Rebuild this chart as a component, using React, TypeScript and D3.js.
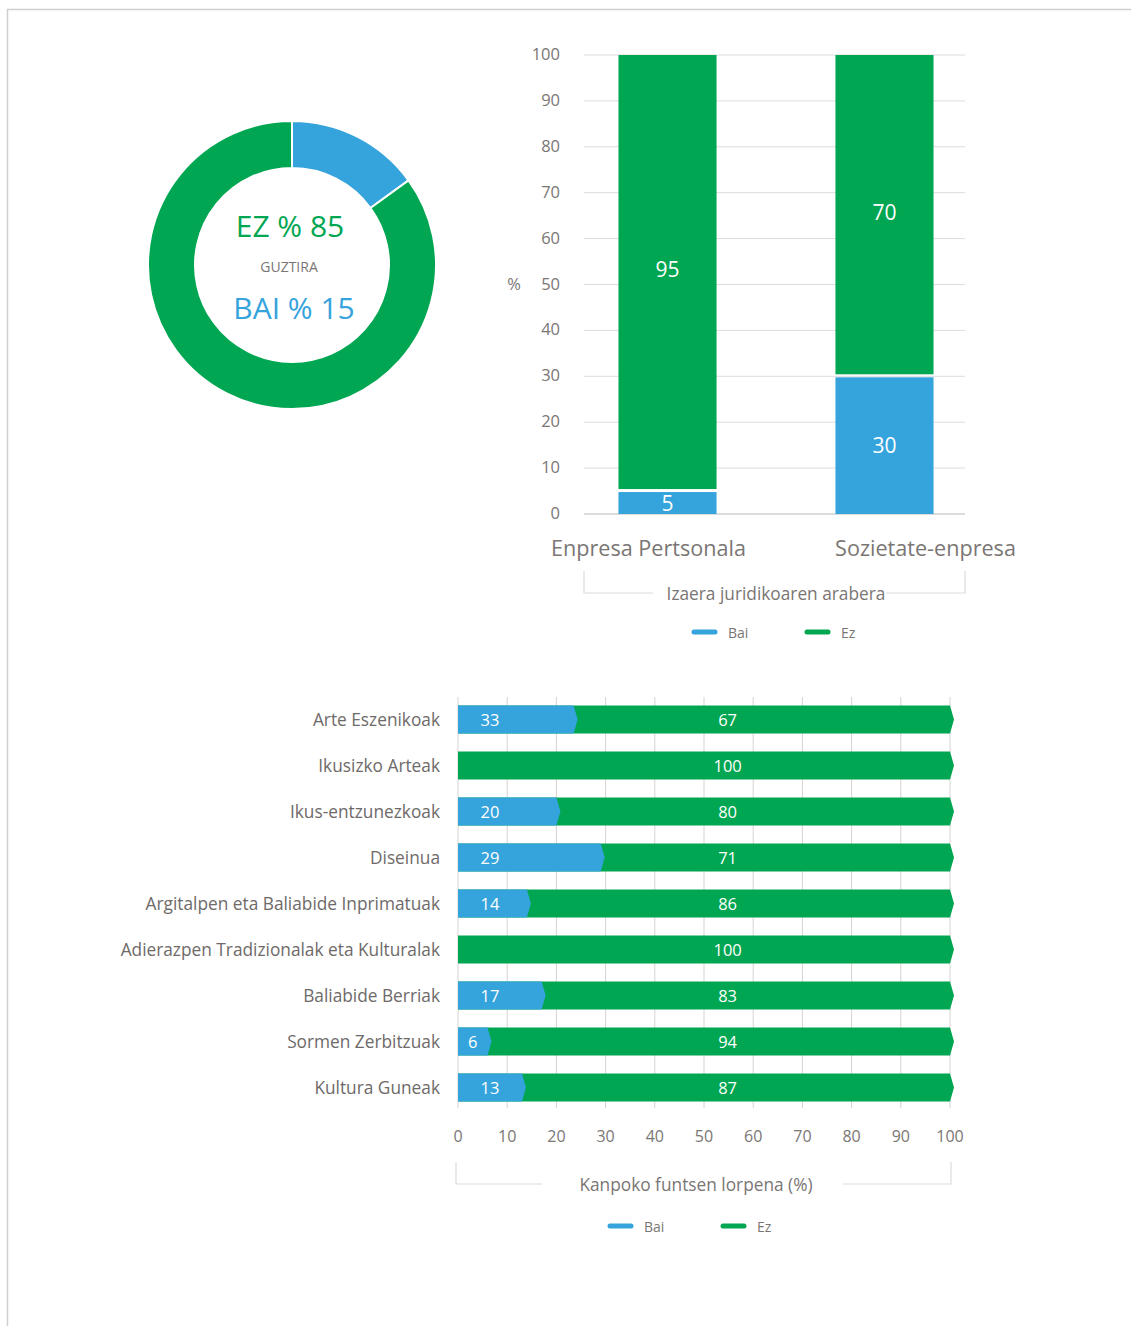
import React from 'react';
import * as d3 from 'd3';

// donut: total
const totalLabels = ['Bai', 'Ez'];
const totalValues = [15, 85];

// top stacked columns
const legalCategories = ['Enpresa Pertsonala', 'Sozietate-enpresa'];
const legalBai = [5, 30];
const legalEz = [95, 70];
const yTicks = [0, 10, 20, 30, 40, 50, 60, 70, 80, 90, 100];

// bottom stacked bars (the first blue bar is drawn shorter than its "33" label in the source)
const sectorCategories = [
    'Arte Eszenikoak',
    'Ikusizko Arteak',
    'Ikus-entzunezkoak',
    'Diseinua',
    'Argitalpen eta Baliabide Inprimatuak',
    'Adierazpen Tradizionalak eta Kulturalak',
    'Baliabide Berriak',
    'Sormen Zerbitzuak',
    'Kultura Guneak',
];
const sectorBai = [23.5, 0, 20, 29, 14, 0, 17, 6, 13];
const sectorBaiLabels = ['33', '', '20', '29', '14', '', '17', '6', '13'];
const sectorEzLabels = ['67', '100', '80', '71', '86', '100', '83', '94', '87'];
const xTicks = [0, 10, 20, 30, 40, 50, 60, 70, 80, 90, 100];

const BLUE = '#35a3dc';
const GREEN = '#00a651';
const GRID = '#dcdcdc';
const TEXT = '#7a7674';
const FONT = '"Open Sans", "Noto Sans", sans-serif';

function Donut()
{
    const cx = 292;
    const cy = 265;
    const pie = d3.pie<number>().sort(null)(totalValues);
    const arc = d3.arc<d3.PieArcDatum<number>>().innerRadius(97).outerRadius(144);
    const colors = [BLUE, GREEN];
    return (
        <g transform={ `translate(${ cx },${ cy })` }>
            { pie.map((p, i) => (
                <path key={ totalLabels[i] } d={ arc(p) || '' } fill={ colors[i] } stroke="#fff" strokeWidth={ 2 } />
            )) }
            <text x={ -2 } y={ -40 } textAnchor="middle" dominantBaseline="central" fontSize={ 30 } fill={ GREEN }>
                { `EZ % ${ totalValues[1] }` }
            </text>
            <text x={ -3 } y={ 1 } textAnchor="middle" dominantBaseline="central" fontSize={ 14 } fill={ TEXT }>GUZTIRA</text>
            <text x={ 2 } y={ 42 } textAnchor="middle" dominantBaseline="central" fontSize={ 30 } fill={ BLUE }>
                { `BAI % ${ totalValues[0] }` }
            </text>
        </g>
    );
}

function Legend({ x, y, gap })
{
    return (
        <g transform={ `translate(${ x },${ y })` } fontSize={ 14 } fill={ TEXT }>
            <line x1={ 0 } x2={ 21 } y1={ 0 } y2={ 0 } stroke={ BLUE } strokeWidth={ 5 } strokeLinecap="round" />
            <text x={ 34 } y={ 0 } dominantBaseline="central">Bai</text>
            <line x1={ gap } x2={ gap + 21 } y1={ 0 } y2={ 0 } stroke={ GREEN } strokeWidth={ 5 } strokeLinecap="round" />
            <text x={ gap + 34 } y={ 0 } dominantBaseline="central">Ez</text>
        </g>
    );
}

function Bracket({ x0, x1, yTop, yBottom, gap0, gap1, label, labelX })
{
    return (
        <g stroke={ GRID } fill="none" strokeWidth={ 1.2 }>
            <path d={ `M${ x0 },${ yTop }V${ yBottom }H${ gap0 }` } />
            <path d={ `M${ gap1 },${ yBottom }H${ x1 }V${ yTop }` } />
            <text x={ labelX } y={ yBottom } textAnchor="middle" dominantBaseline="central" fontSize={ 17.3 } fill={ TEXT } stroke="none">
                { label }
            </text>
        </g>
    );
}

function ColumnChart()
{
    const left = 584;
    const right = 965;
    const x = d3.scaleBand().domain(legalCategories).range([left + 1.5, right + 1.5]).paddingInner(0.548).paddingOuter(0.152);
    const y = d3.scaleLinear().domain([0, 100]).range([514, 55]);
    const labelShift = [-19, 41];
    return (
        <g fontFamily={ FONT }>
            { yTicks.map((t) => (
                <g key={ t }>
                    <line x1={ left } x2={ right } y1={ y(t) } y2={ y(t) } stroke={ GRID } strokeWidth={ t === 0 ? 2 : 1 } />
                    <text x={ 560 } y={ y(t) - 1.5 } textAnchor="end" dominantBaseline="central" fontSize={ 16.5 } fill={ TEXT }>{ t }</text>
                </g>
            )) }
            <text x={ 514 } y={ y(50) - 1 } textAnchor="middle" dominantBaseline="central" fontSize={ 16.5 } fill={ TEXT }>%</text>
            { legalCategories.map((c, i) =>
            {
                const bx = x(c) || 0;
                const bw = x.bandwidth();
                const b = legalBai[i];
                const e = legalEz[i];
                return (
                    <g key={ c }>
                        <rect x={ bx } width={ bw } y={ y(b) + 1 } height={ y(0) - y(b) - 1 } fill={ BLUE } />
                        <rect x={ bx } width={ bw } y={ y(b + e) } height={ y(b) - y(b + e) - 2 } fill={ GREEN } />
                        <text x={ bx + bw / 2 } y={ y(b / 2) } textAnchor="middle" dominantBaseline="central" fontSize={ 21 } fill="#fff">{ b }</text>
                        <text x={ bx + bw / 2 } y={ y(b + e / 2) - 4 } textAnchor="middle" dominantBaseline="central" fontSize={ 21 } fill="#fff">{ e }</text>
                        <text x={ bx + bw / 2 + labelShift[i] } y={ 547 } textAnchor="middle" dominantBaseline="central" fontSize={ 21.6 } fill={ TEXT }>{ c }</text>
                    </g>
                );
            }) }
            <Bracket x0={ left } x1={ right } yTop={ 571 } yBottom={ 593 } gap0={ 653 } gap1={ 886 } label="Izaera juridikoaren arabera" labelX={ 776 } />
            <Legend x={ 694 } y={ 632 } gap={ 113 } />
        </g>
    );
}

function arrowBar(x0, x1, yTop, h)
{
    const tip = 4;
    return `M${ x0 },${ yTop }H${ x1 }L${ x1 + tip },${ yTop + h / 2 }L${ x1 },${ yTop + h }H${ x0 }Z`;
}

function BarChart()
{
    const x = d3.scaleLinear().domain([0, 100]).range([458, 950]);
    const y = d3.scaleBand().domain(sectorCategories).range([697, 1110]).paddingInner(0.391).paddingOuter(0.185);
    const h = y.bandwidth();
    return (
        <g fontFamily={ FONT }>
            { xTicks.map((t) => (
                <g key={ t }>
                    <line x1={ x(t) } x2={ x(t) } y1={ 697 } y2={ 1108 } stroke="#d8d2d2" strokeWidth={ 1 } />
                    <text x={ x(t) } y={ 1136 } textAnchor="middle" dominantBaseline="central" fontSize={ 16 } fill={ TEXT }>{ t }</text>
                </g>
            )) }
            { sectorCategories.map((c, i) =>
            {
                const yy = y(c) || 0;
                const b = sectorBai[i];
                const cy = yy + h / 2;
                const blueCenter = (x(0) + x(b)) / 2;
                return (
                    <g key={ c }>
                        <text x={ 440 } y={ cy } textAnchor="end" dominantBaseline="central" fontSize={ 17.3 } fill="#6e6a69">{ c }</text>
                        <path d={ arrowBar(x(0), x(100), yy, h) } fill={ GREEN } />
                        { b > 0 && <path d={ arrowBar(x(0), x(b), yy, h) } fill={ BLUE } /> }
                        { b > 0 && (
                            <text x={ Math.min(blueCenter, x(0) + 32) } y={ cy } textAnchor="middle" dominantBaseline="central" fontSize={ 16.5 } fill="#fff">{ sectorBaiLabels[i] }</text>
                        ) }
                        <text x={ x(54.8) } y={ cy } textAnchor="middle" dominantBaseline="central" fontSize={ 16.5 } fill="#fff">{ sectorEzLabels[i] }</text>
                    </g>
                );
            }) }
            <Bracket x0={ 456 } x1={ 951 } yTop={ 1162 } yBottom={ 1184 } gap0={ 542 } gap1={ 843 } label="Kanpoko funtsen lorpena (%)" labelX={ 696 } />
            <Legend x={ 610 } y={ 1226 } gap={ 113 } />
        </g>
    );
}

export default function App()
{
    return (
        <svg width={ 1131 } height={ 1326 } style={ { position: 'absolute', left: 0, top: 0 } } fontFamily={ FONT }>
            <rect width={ 1131 } height={ 1326 } fill="#fff" />
            <path d="M7.5,1326V9.5H1131" fill="none" stroke="#cfcfcf" strokeWidth={ 1.5 } />
            <Donut />
            <ColumnChart />
            <BarChart />
        </svg>
    );
}
